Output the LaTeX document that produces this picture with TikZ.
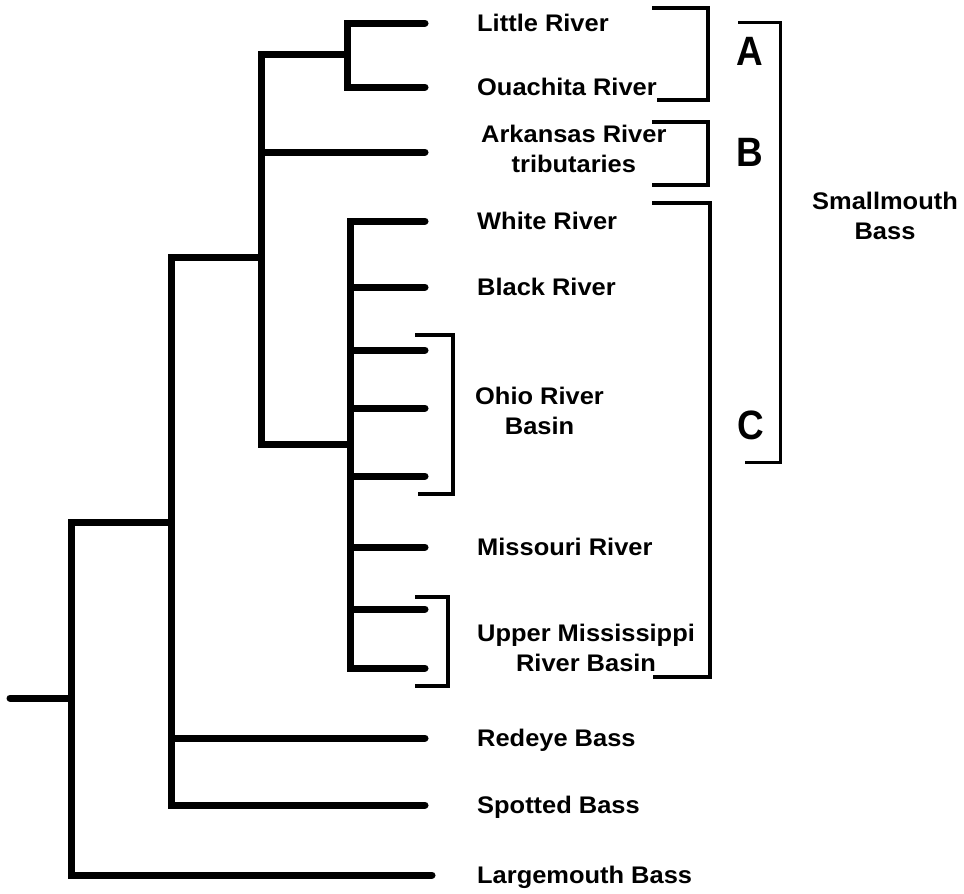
\documentclass[tikz,border=0pt]{standalone}
\usepackage{fontspec}
\setmainfont{Liberation Sans}
\newfontfamily\taxonfont{Liberation Sans}[FakeStretch=1.06]
\newfontfamily\cladefont{Liberation Sans}[FakeStretch=0.9]

\begin{document}
\begin{tikzpicture}[x=1pt, y=-1pt,
  branch/.style={line width=7pt, line cap=round},
  brack/.style={line width=4.5pt},
  bigbrack/.style={line width=3pt},
  taxon/.style={anchor=west, align=center, inner sep=0pt,
    font=\taxonfont\bfseries\fontsize{24}{30}\selectfont},
  oneline/.style={taxon, text height=17pt, text depth=0pt},
  clade/.style={inner sep=0pt, font=\cladefont\bfseries\fontsize{41}{41}\selectfont}]
\useasboundingbox (0,0) rectangle (964,894);
% leaf tips
\foreach \n/\y in {little/23, ouach/87, ark/152, white/221, black/287,
  ohioa/350, ohiob/408, ohioc/476, miss/547, umra/609, umrb/668,
  redeye/738, spotted/805}
  \coordinate (\n) at (425,\y);
\coordinate (large) at (432,875);
% inner nodes
\coordinate (n1) at (347,54);
\coordinate (n2) at (261,257);
\coordinate (n3) at (350,444);
\coordinate (n4) at (171,522);
\coordinate (root) at (71,698);
\coordinate (stub) at (10,698);
% tree
\foreach \c in {little,ouach} \draw[branch] (n1) |- (\c);
\foreach \c in {n1,ark,n3} \draw[branch] (n2) |- (\c);
\foreach \c in {white,black,ohioa,ohiob,ohioc,miss,umra,umrb}
  \draw[branch] (n3) |- (\c);
\foreach \c in {n2,redeye,spotted} \draw[branch] (n4) |- (\c);
\foreach \c in {n4,large} \draw[branch] (root) |- (\c);
\draw[branch] (stub) -- (root);
% labels
\foreach \n/\y/\t in {little/23/Little River, ouach/87/Ouachita River,
  white/221/White River, black/287/Black River, miss/547/Missouri River,
  redeye/738/Redeye Bass, spotted/805/Spotted Bass, large/875/Largemouth Bass}
  \node[oneline] (t-\n) at (477,\y) {\t};
\node[taxon] (t-ark) at (481,149) {Arkansas River\\tributaries};
\node[taxon] (t-ohio) at (475,411) {Ohio River\\Basin};
\node[taxon] (t-umr) at (477,648) {Upper Mississippi\\River Basin};
% brackets
\draw[brack] (415,335) -| (453,494) -- (418,494);
\draw[brack] (415,597) -| (448,686) -- (415,686);
\draw[brack] (652,8) -| (708,100) -- (657,100);
\draw[brack] (652,122) -| (708,185) -- (652,185);
\draw[brack] (652,203) -| (710,677) -- (653,677);
\draw[bigbrack] (738,22) -| (780,462) -- (745,462);
\node[clade] (cA) at (750,51) {A};
\node[clade] (cB) at (750,152) {B};
\node[clade] (cC) at (751,425) {C};
\node[taxon, anchor=center] (smb) at (885,216) {Smallmouth\\Bass};
\end{tikzpicture}
\end{document}
